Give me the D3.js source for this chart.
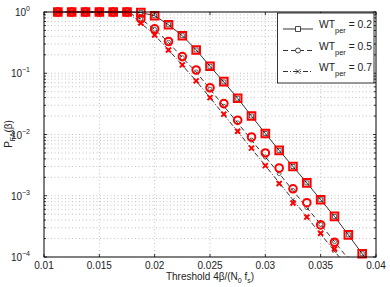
<!DOCTYPE html>
<html>
<head>
<meta charset="utf-8">
<script src="https://cdn.jsdelivr.net/npm/d3@7"></script>
<style>
  body { margin: 0; background: #fff; }
  svg { display: block; font-family: "Liberation Sans", Arial, sans-serif; }
</style>
</head>
<body>
<svg id="chart" width="390" height="287"></svg>
<script>
// thresholds 4β/(N0 fs)
const thresholds = [0.01125, 0.0125, 0.01375, 0.015, 0.01625, 0.0175, 0.01875, 0.02, 0.02125, 0.0225,
  0.02375, 0.025, 0.02625, 0.0275, 0.02875, 0.03, 0.03125, 0.0325, 0.03375, 0.035, 0.03625, 0.0375, 0.03875]
const thresholdsTheory = [0.01125, 0.0125, 0.01375, 0.015, 0.01625, 0.0175, 0.01875, 0.02, 0.02125, 0.0225,
  0.02375, 0.025, 0.02625, 0.0275, 0.02875, 0.03, 0.03125, 0.0325, 0.03375, 0.035, 0.03625, 0.0375, 0.03875, 0.04]

// simulated (red markers)
const sim02 = [1, 1, 1, 1, 1, 1, 0.98, 0.87, 0.62, 0.41, 0.24, 0.13, 0.073, 0.039, 0.020, 0.0104, 0.0055, 0.0030,
  0.00162, 0.00086, 0.00046, 0.00023, 0.000113]
const sim05 = [1, 1, 1, 1, 1, 1, 0.77, 0.53, 0.33, 0.187, 0.113, 0.058, 0.032, 0.0171, 0.0091, 0.0050, 0.00284, 0.0013,
  0.00077, 0.000335, 0.000174, null, null]
const sim07 = [1, 1, 1, 1, 1, 1, 0.66, 0.42, 0.24, 0.137, 0.075, 0.040, 0.0215, 0.0113, 0.0060, 0.0031, 0.00158, 0.00076,
  0.00045, 0.000244, 0.000135, null, null]

// analytical (black lines)
const th02 = [1, 1, 1, 1, 1, 1, 0.98, 0.87, 0.62, 0.41, 0.24, 0.13, 0.072, 0.039, 0.020, 0.0104, 0.0055, 0.0030,
  0.00162, 0.00086, 0.00046, 0.00023, 0.000113, 0.000058]
const th05 = [1, 1, 1, 1, 1, 1, 0.77, 0.52, 0.32, 0.18, 0.105, 0.055, 0.029, 0.0155, 0.0081, 0.0043, 0.0023, 0.00122,
  0.00064, 0.00034, 0.000178, 0.000093, 0.000049, 0.000026]
const th07 = [1, 1, 1, 1, 1, 1, 0.66, 0.42, 0.24, 0.135, 0.075, 0.040, 0.021, 0.0112, 0.0059, 0.0031, 0.00163, 0.00086,
  0.00045, 0.000237, 0.000125, 0.000066, 0.000035, 0.000018]

const seriesNames = ["0.2", "0.5", "0.7"]
const xTicks = [0.01, 0.015, 0.02, 0.025, 0.03, 0.035, 0.04]
const yExps = [0, -1, -2, -3, -4]

const series = [
  { name: seriesNames[0], sim: sim02, th: th02, marker: "square", dash: null },
  { name: seriesNames[1], sim: sim05, th: th05, marker: "circle", dash: "5,3" },
  { name: seriesNames[2], sim: sim07, th: th07, marker: "cross", dash: "5,2,1,2" }
]

const svg = d3.select("#chart")
const mLeft = 44, mRight = 376, mTop = 12, mBottom = 257

const x = d3.scaleLinear().domain([0.01, 0.04]).range([mLeft, mRight])
const y = d3.scaleLog().domain([1e-4, 1]).range([mBottom, mTop])

// grid
const minor = []
for (let e = -4; e < 0; e++) for (let k = 2; k <= 9; k++) minor.push(k * Math.pow(10, e))
const grid = svg.append("g").attr("stroke", "#b4b4b4").attr("stroke-width", 0.8).attr("stroke-dasharray", "1,2.5")
grid.selectAll("line.h").data(minor.concat(yExps.slice(1, 4).map(e => Math.pow(10, e)))).join("line")
  .attr("x1", mLeft).attr("x2", mRight).attr("y1", d => y(d)).attr("y2", d => y(d))
grid.selectAll("line.v").data(xTicks.slice(1, -1)).join("line")
  .attr("x1", d => x(d)).attr("x2", d => x(d)).attr("y1", mTop).attr("y2", mBottom)

svg.append("clipPath").attr("id", "clip").append("rect")
  .attr("x", mLeft).attr("y", mTop - 6).attr("width", mRight - mLeft).attr("height", mBottom - mTop + 6)

const plot = svg.append("g").attr("clip-path", "url(#clip)")

const markerPath = (type, s) => {
  if (type === "square") return `M${-s},${-s}H${s}V${s}H${-s}Z`
  if (type === "circle") return `M${s},0A${s},${s} 0 1,1 ${-s},0A${s},${s} 0 1,1 ${s},0`
  return `M${-s},${-s}L${s},${s}M${-s},${s}L${s},${-s}`
}

// analytical lines with small black markers
series.forEach(s => {
  const pts = thresholdsTheory.map((t, i) => [t, s.th[i]])
  plot.append("path")
    .attr("d", d3.line().x(d => x(d[0])).y(d => y(d[1]))(pts))
    .attr("fill", "none").attr("stroke", "#000").attr("stroke-width", 0.8)
    .attr("stroke-dasharray", s.dash)
  plot.selectAll(null).data(pts).join("path")
    .attr("transform", d => `translate(${x(d[0])},${y(d[1])})`)
    .attr("d", markerPath(s.marker, 2))
    .attr("fill", "none").attr("stroke", "#000").attr("stroke-width", 0.6)
})

// simulated red markers
const simPlot = svg.append("g")
series.forEach(s => {
  const pts = thresholds.map((t, i) => [t, s.sim[i]]).filter(d => d[1] != null && d[1] >= 1e-4)
  simPlot.selectAll(null).data(pts).join("path")
    .attr("transform", d => `translate(${x(d[0])},${y(d[1])})`)
    .attr("d", markerPath(s.marker, s.marker === "cross" ? 2.5 : 3.8))
    .attr("fill", "none").attr("stroke", "#ff0000").attr("stroke-width", 2)
})

// frame and ticks
svg.append("rect").attr("x", mLeft).attr("y", mTop).attr("width", mRight - mLeft).attr("height", mBottom - mTop)
  .attr("fill", "none").attr("stroke", "#000").attr("stroke-width", 1)

const ticks = svg.append("g").attr("stroke", "#000").attr("stroke-width", 0.8)
xTicks.forEach(t => {
  ticks.append("line").attr("x1", x(t)).attr("x2", x(t)).attr("y1", mBottom).attr("y2", mBottom - 3)
  ticks.append("line").attr("x1", x(t)).attr("x2", x(t)).attr("y1", mTop).attr("y2", mTop + 3)
})
minor.concat(yExps.map(e => Math.pow(10, e))).forEach(v => {
  const len = minor.includes(v) ? 2 : 3
  ticks.append("line").attr("x1", mLeft).attr("x2", mLeft + len).attr("y1", y(v)).attr("y2", y(v))
  ticks.append("line").attr("x1", mRight).attr("x2", mRight - len).attr("y1", y(v)).attr("y2", y(v))
})

svg.selectAll("text.xt").data(xTicks).join("text")
  .attr("x", d => x(d)).attr("y", 269).attr("text-anchor", "middle")
  .attr("font-size", 10).attr("fill", "#222")
  .text(d => d3.format("")(d))

const yl = svg.selectAll("text.yt").data(yExps).join("text")
  .attr("x", 30).attr("y", d => y(Math.pow(10, d)) + 4).attr("text-anchor", "end")
  .attr("font-size", 10).attr("fill", "#222")
yl.append("tspan").text("10")
yl.append("tspan").attr("dy", -5).attr("font-size", 7).text(d => d === 0 ? "0" : "\u2212" + (-d))

// axis labels
const xl = svg.append("text").attr("x", 210).attr("y", 280).attr("text-anchor", "middle")
  .attr("font-size", 10).attr("fill", "#222")
xl.append("tspan").text("Threshold 4\u03b2/(N")
xl.append("tspan").attr("dy", 3).attr("font-size", 7).text("0")
xl.append("tspan").attr("dy", -3).text(" f")
xl.append("tspan").attr("dy", 3).attr("font-size", 7).text("s")
xl.append("tspan").attr("dy", -3).text(")")

const ylab = svg.append("text").attr("transform", "translate(12,134) rotate(-90)").attr("text-anchor", "middle")
  .attr("font-size", 10).attr("fill", "#222")
ylab.append("tspan").text("P")
ylab.append("tspan").attr("dy", 3).attr("font-size", 7).text("FA")
ylab.append("tspan").attr("dy", -3).text("(\u03b2)")

// legend
const lg = svg.append("g")
lg.append("rect").attr("x", 277.5).attr("y", 13).attr("width", 96.5).attr("height", 70)
  .attr("fill", "#fff").attr("stroke", "#000").attr("stroke-width", 0.8)
const rowY = [29, 50.5, 71.5]
series.forEach((s, i) => {
  const ry = rowY[i]
  lg.append("line").attr("x1", 283).attr("x2", 313).attr("y1", ry).attr("y2", ry)
    .attr("stroke", "#000").attr("stroke-width", 0.8).attr("stroke-dasharray", s.dash)
  lg.append("path").attr("transform", `translate(298,${ry})`).attr("d", markerPath(s.marker, 2.5))
    .attr("fill", "#fff").attr("stroke", "#000").attr("stroke-width", 0.7)
  const t = lg.append("text").attr("x", 319).attr("y", ry - 1).attr("font-size", 10.3).attr("fill", "#222")
  t.append("tspan").text("WT")
  t.append("tspan").attr("dy", 5).attr("font-size", 7.5).text("per")
  t.append("tspan").attr("dy", -5).text(" = " + s.name)
})
</script>
</body>
</html>
